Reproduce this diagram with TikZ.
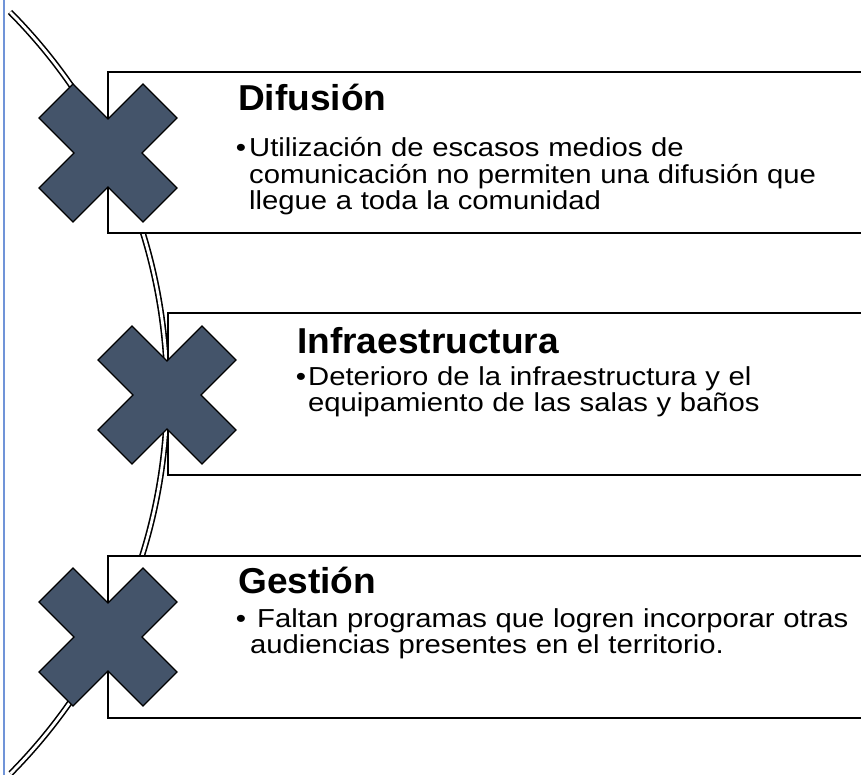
\documentclass[tikz,border=0pt]{standalone}
\usepackage{fontspec}
\setmainfont{Liberation Sans}
\newfontfamily\bodyfont[FakeStretch=1.125]{Liberation Sans}
\newfontfamily\titlefont[FakeStretch=1.03]{Liberation Sans}
\definecolor{crossfill}{HTML}{44546A}
\definecolor{edgeblue}{HTML}{7094D8}
\begin{document}
\begin{tikzpicture}[x=1pt,y=1pt,
  spine/.style={draw=black,line width=1.6pt,double=white,double distance=2.8pt},
  panel/.style={draw=black,line width=1.8pt,fill=white},
  xmark/.style={draw=black,line width=1.4pt,fill=crossfill,line join=miter},
  title/.style={font=\titlefont\fontsize{36}{40}\selectfont\bfseries,anchor=base west,inner sep=0pt},
  body/.style={font=\bodyfont\fontsize{26}{26.5}\selectfont,anchor=base west,inner sep=0pt,text width=640pt,align=left}
]
\useasboundingbox (0,0) rectangle (861,-775);
\clip (0,0) rectangle (861,-775);
% left blue edge
\draw[edgeblue,line width=1.3pt] (4,0) -- (4,-775);
% spine arc
\coordinate (s0) at (10,-12);
\draw[spine] (s0) arc[start angle=44.8,end angle=-44.7,radius=540.8];
% panels
\draw[panel] (108,-72) rectangle (875,-233);
\draw[panel] (168,-313) rectangle (875,-475);
\draw[panel] (108,-556) rectangle (875,-718);
% crosses
\draw[xmark] (108,-119) -- ++(35,35) -- ++(34,-34) -- ++(-35,-35) -- ++(35,-35) -- ++(-34,-34) -- ++(-35,35) -- ++(-35,-35) -- ++(-34,34) -- ++(35,35) -- ++(-35,35) -- ++(34,34) -- cycle;
\draw[xmark] (167,-361) -- ++(35,35) -- ++(34,-34) -- ++(-35,-35) -- ++(35,-35) -- ++(-34,-34) -- ++(-35,35) -- ++(-35,-35) -- ++(-34,34) -- ++(35,35) -- ++(-35,35) -- ++(34,34) -- cycle;
\draw[xmark] (108,-603) -- ++(35,35) -- ++(34,-34) -- ++(-35,-35) -- ++(35,-35) -- ++(-34,-34) -- ++(-35,35) -- ++(-35,-35) -- ++(-34,34) -- ++(35,35) -- ++(-35,35) -- ++(34,34) -- cycle;
% texts
\node[title] (t1) at (238,-111) {Difusión};
\node[body] (b1) at (249,-157) {\llap{•\hspace{3pt}}Utilización de escasos medios de\\comunicación no permiten una difusión que\\llegue a toda la comunidad};
\node[title] (t2) at (297,-353) {Infraestructura};
\node[body] (b2) at (308,-385) {\llap{•\hspace{2pt}}Deterioro de la infraestructura y el\\equipamiento de las salas y baños};
\node[title] (t3) at (238,-593) {Gestión};
\node[body] (b3) at (250,-627) {\llap{•\hspace{4pt}}\hspace{7pt}Faltan programas que logren incorporar otras\\audiencias presentes en el territorio.};
\end{tikzpicture}
\end{document}
